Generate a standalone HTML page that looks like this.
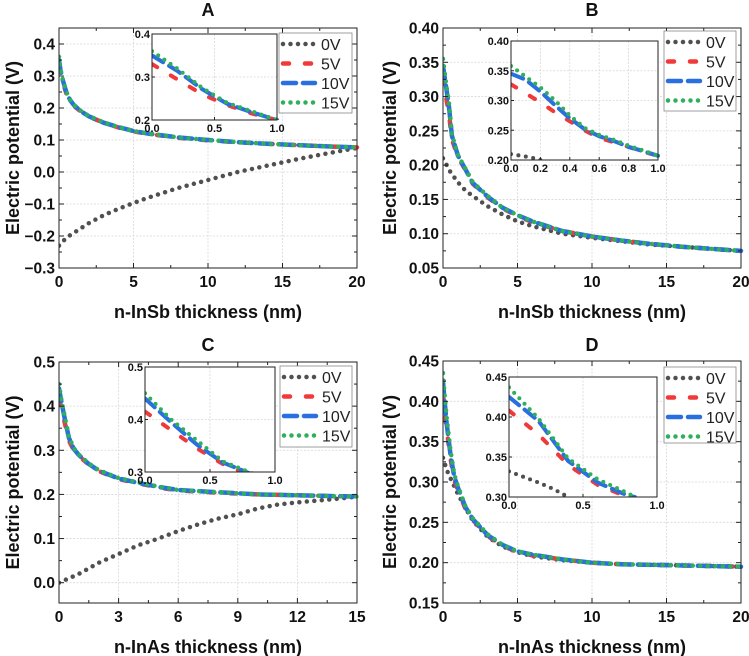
<!DOCTYPE html>
<html><head><meta charset="utf-8">
<style>
body{margin:0;background:#fff;}
svg{display:block;font-family:"Liberation Sans",sans-serif;}
</style></head>
<body>
<svg id="chart" width="749" height="656" viewBox="0 0 749 656" xmlns="http://www.w3.org/2000/svg"></svg>
<script>
// ---------- Data ----------
const seriesNames = ["0V","5V","10V","15V"];
// Panel A
const aX  = [0,0.1,0.25,0.5,0.75,1,1.5,2,3,4,5,6,8,10,12,14,16,18,20];
const a15 = [0.36,0.32,0.29,0.25,0.225,0.21,0.19,0.175,0.155,0.14,0.128,0.12,0.108,0.1,0.093,0.088,0.084,0.08,0.077];
const a10 = [0.35,0.318,0.288,0.248,0.224,0.209,0.189,0.174,0.154,0.14,0.128,0.12,0.108,0.1,0.093,0.088,0.084,0.08,0.077];
const a5  = [0.33,0.31,0.283,0.244,0.222,0.207,0.188,0.173,0.154,0.139,0.127,0.119,0.107,0.099,0.093,0.088,0.084,0.08,0.077];
const a0X = [0,0.5,1,2,3,4,5,6,8,10,12,14,16,18,20];
const a0  = [-0.23,-0.205,-0.19,-0.16,-0.135,-0.115,-0.097,-0.08,-0.05,-0.025,0,0.02,0.04,0.058,0.075];
const aiX = [0,0.2,0.4,0.6,0.8,1.0];
const ai15 = [0.36,0.32,0.275,0.24,0.22,0.2];
const ai10 = [0.35,0.315,0.272,0.238,0.218,0.2];
const ai5  = [0.33,0.295,0.26,0.235,0.215,0.2];
// Panel B
const bX  = [0,0.2,0.4,0.6,1,1.5,2,3,4,5,6,8,10,12,14,16,18,20];
const b15 = [0.355,0.32,0.29,0.245,0.215,0.195,0.175,0.155,0.138,0.127,0.118,0.104,0.096,0.09,0.085,0.081,0.078,0.075];
const b10 = [0.345,0.315,0.285,0.243,0.214,0.194,0.174,0.154,0.138,0.127,0.118,0.104,0.096,0.09,0.085,0.081,0.078,0.075];
const b5  = [0.328,0.3,0.275,0.238,0.212,0.193,0.173,0.153,0.137,0.126,0.117,0.104,0.096,0.09,0.085,0.081,0.078,0.075];
const b0X = [0,0.5,1,1.5,2,3,4,5,6,8,10,12,14,16,18,20];
const b0  = [0.21,0.19,0.175,0.163,0.155,0.14,0.128,0.118,0.111,0.1,0.094,0.089,0.084,0.081,0.078,0.075];
const biX = [0,0.1,0.2,0.3,0.4,0.5,0.6,0.7,0.8,0.9,1.0];
const bi15 = [0.358,0.34,0.322,0.3,0.275,0.254,0.242,0.234,0.224,0.216,0.207];
const bi10 = [0.345,0.335,0.315,0.292,0.27,0.252,0.24,0.232,0.222,0.215,0.207];
const bi5  = [0.327,0.312,0.297,0.28,0.265,0.25,0.237,0.23,0.222,0.214,0.207];
const bi0X = [0,0.07,0.14,0.2];
const bi0  = [0.21,0.207,0.204,0.2];
// Panel C
const cX  = [0,0.1,0.25,0.5,0.75,1,1.5,2,3,4,5,6,8,10,12,15];
const c15 = [0.45,0.42,0.385,0.33,0.305,0.29,0.27,0.255,0.237,0.227,0.218,0.21,0.205,0.2,0.198,0.195];
const c10 = [0.44,0.415,0.38,0.328,0.303,0.289,0.269,0.254,0.236,0.226,0.217,0.21,0.205,0.2,0.198,0.195];
const c5  = [0.415,0.4,0.37,0.322,0.3,0.287,0.268,0.253,0.235,0.225,0.216,0.209,0.204,0.2,0.198,0.195];
const c0X = [0,0.5,1,2,3,4,5,6,7,8,9,10,11,12,13,14,15];
const c0  = [0,0.01,0.02,0.045,0.065,0.085,0.1,0.117,0.132,0.145,0.155,0.168,0.177,0.182,0.186,0.19,0.195];
const ciX = [0,0.2,0.4,0.6,0.8,0.9];
const ci15 = [0.45,0.4,0.36,0.32,0.3,0.29];
const ci10 = [0.44,0.395,0.352,0.318,0.298,0.29];
const ci5  = [0.415,0.38,0.345,0.315,0.295,0.288];
// Panel D
const dX  = [0,0.1,0.25,0.5,0.75,1,1.5,2,3,4,5,6,8,10,12,15,20];
const d15 = [0.435,0.41,0.38,0.34,0.31,0.295,0.27,0.255,0.235,0.222,0.214,0.21,0.204,0.2,0.198,0.197,0.195];
const d10 = [0.425,0.402,0.372,0.335,0.307,0.293,0.269,0.254,0.234,0.222,0.214,0.21,0.204,0.2,0.198,0.197,0.195];
const d5  = [0.408,0.39,0.365,0.33,0.303,0.29,0.267,0.253,0.233,0.221,0.213,0.209,0.204,0.2,0.198,0.197,0.195];
const d0X = [0,0.25,0.5,1,1.5,2,3,4,5,6,8,10,12,15,20];
const d0  = [0.33,0.315,0.305,0.285,0.268,0.252,0.232,0.22,0.213,0.208,0.203,0.2,0.198,0.197,0.195];
const diX = [0,0.2,0.4,0.6,0.8,0.85];
const di15 = [0.437,0.398,0.348,0.322,0.305,0.3];
const di10 = [0.425,0.395,0.345,0.318,0.302,0.3];
const di5  = [0.408,0.378,0.34,0.315,0.3,0.298];
const di0X = [0,0.1,0.2,0.3,0.4];
const di0  = [0.332,0.325,0.318,0.31,0.3];

// ---------- Drawing ----------
const NS="http://www.w3.org/2000/svg";
const svg=document.getElementById('chart');
function mk(tag,attrs,parent){const e=document.createElementNS(NS,tag);for(const k in attrs)e.setAttribute(k,attrs[k]);(parent||svg).appendChild(e);return e;}
const styles={
 "0V":{c:"#505050",w:4.5,d:"0 7.5"},
 "5V":{c:"#f03a3a",w:4.5,d:"6 16"},
 "10V":{c:"#2a6fe0",w:4.5,d:"13 7"},
 "15V":{c:"#2eb05a",w:4.5,d:"0 7.5"}
};
function fmt(v,dec){return v.toFixed(dec).replace('-','\u2212');}

function axes(p){
 const g=mk('g',{});
 
 
 const sx=v=>p.x0+(v-p.xmin)/(p.xmax-p.xmin)*(p.x1-p.x0);
 const sy=v=>p.y1-(v-p.ymin)/(p.ymax-p.ymin)*(p.y1-p.y0);
 mk('rect',{x:p.x0,y:p.y0,width:p.x1-p.x0,height:p.y1-p.y0,fill:'#fff'},g);
 p.xt.forEach(v=>mk('line',{x1:sx(v),x2:sx(v),y1:p.y0,y2:p.y1,stroke:'#d8d8d8','stroke-width':0.8,'stroke-dasharray':'2 1.5'},g));
 p.yt.forEach(v=>mk('line',{x1:p.x0,x2:p.x1,y1:sy(v),y2:sy(v),stroke:'#d8d8d8','stroke-width':0.8,'stroke-dasharray':'2 1.5'},g));
 const clipId='clip'+p.name;
 const cp=mk('clipPath',{id:clipId},g);mk('rect',{x:p.x0,y:p.y0-3,width:p.x1-p.x0+3,height:p.y1-p.y0+3},cp);
 const sg=mk('g',{'clip-path':`url(#${clipId})`},g);
 p.series.forEach(s=>{
  const st=styles[s.n];
  const pts=s.x.map((x,i)=>sx(x).toFixed(1)+','+sy(s.y[i]).toFixed(1)).join(' ');
  const pl=mk('polyline',{points:pts,fill:'none',stroke:st.c,'stroke-width':p.inset?st.w*0.9:st.w,'stroke-dasharray':st.d,'stroke-linecap':'round'},sg);
  
  
 });
 mk('rect',{x:p.x0,y:p.y0,width:p.x1-p.x0,height:p.y1-p.y0,fill:'none',stroke:'#222','stroke-width':1},g);
 const fs=p.inset?11:15.5;
 p.xt.forEach(v=>{
  mk('line',{x1:sx(v),x2:sx(v),y1:p.y1,y2:p.y1-(p.inset?3:5),stroke:'#222'},g);
  if(!p.inset) mk('line',{x1:sx(v),x2:sx(v),y1:p.y0,y2:p.y0+5,stroke:'#222'},g);
  const t=mk('text',{x:sx(v),y:p.y1+(p.inset?12:19),'text-anchor':'middle','font-size':fs,'font-weight':'bold',fill:'#111'},g);
  t.textContent=fmt(v,p.xdec);
 });
 p.yt.forEach(v=>{
  mk('line',{x1:p.x0,x2:p.x0+(p.inset?3:5),y1:sy(v),y2:sy(v),stroke:'#222'},g);
  if(!p.inset) mk('line',{x1:p.x1,x2:p.x1-5,y1:sy(v),y2:sy(v),stroke:'#222'},g);
  const t=mk('text',{x:p.x0-(p.inset?2:4),y:sy(v)+(p.inset?4:5.5),'text-anchor':'end','font-size':fs,'font-weight':'bold',fill:'#111'},g);
  t.textContent=fmt(v,p.ydec);
 });
 if(!p.inset){
  for(let i=0;i<p.xt.length-1;i++){const m=(p.xt[i]+p.xt[i+1])/2;mk('line',{x1:sx(m),x2:sx(m),y1:p.y1,y2:p.y1-3,stroke:'#222'},g);mk('line',{x1:sx(m),x2:sx(m),y1:p.y0,y2:p.y0+3,stroke:'#222'},g);}
  for(let i=0;i<p.yt.length-1;i++){const m=(p.yt[i]+p.yt[i+1])/2;mk('line',{x1:p.x0,x2:p.x0+3,y1:sy(m),y2:sy(m),stroke:'#222'},g);mk('line',{x1:p.x1,x2:p.x1-3,y1:sy(m),y2:sy(m),stroke:'#222'},g);}
  const xt=mk('text',{x:(p.x0+p.x1)/2,y:p.y1+50,'text-anchor':'middle','font-size':18,'font-weight':'bold',fill:'#111'},g);
  xt.textContent=p.xlabel;
  
  const yx=p.ytx, yy=(p.y0+p.y1)/2;
  const yt=mk('text',{x:yx,y:yy,'text-anchor':'middle','font-size':18,'font-weight':'bold',fill:'#111',transform:`rotate(-90 ${yx} ${yy})`},g);
  yt.textContent='Electric potential (V)';
  
  const tt=mk('text',{x:(p.x0+p.x1)/2,y:p.titleY,'text-anchor':'middle','font-size':18,'font-weight':'bold',fill:'#111'},g);
  tt.textContent=p.title;
  
 }
 return g;
}
function legend(x,y,w,h,name){
 const g=mk('g',{});
 
 
 mk('rect',{x:x,y:y,width:w,height:h,fill:'#fff',stroke:'#888','stroke-width':0.8},g);
 seriesNames.forEach((n,i)=>{
  const st=styles[n];const yy=y+11+i*19.5;
  mk('line',{x1:x+4,x2:x+36,y1:yy,y2:yy,stroke:st.c,'stroke-width':st.w,'stroke-dasharray':st.d,'stroke-linecap':'round'},g);
  const t=mk('text',{x:x+42,y:yy+6,'font-size':16,fill:'#222'},g);
  t.textContent=n;
  
 });
}
const S=(x,y,n)=>({x:x,y:y,n:n});

axes({name:'panel-a',x0:59,x1:357,y0:28,y1:268,xmin:0,xmax:20,ymin:-0.3,ymax:0.45,xt:[0,5,10,15,20],yt:[-0.3,-0.2,-0.1,0,0.1,0.2,0.3,0.4],xdec:0,ydec:1,xlabel:'n-InSb thickness (nm)',ytx:19,titleY:16,title:'A',
 series:[S(a0X,a0,'0V'),S(aX,a5,'5V'),S(aX,a10,'10V'),S(aX,a15,'15V')]});
axes({name:'panel-a-inset',inset:true,x0:152,x1:277,y0:34,y1:120,xmin:0,xmax:1,ymin:0.2,ymax:0.4,xt:[0,0.5,1],yt:[0.2,0.3,0.4],xdec:1,ydec:1,
 series:[S(aiX,ai5,'5V'),S(aiX,ai10,'10V'),S(aiX,ai15,'15V')]});
legend(279,33,73,80,'panel-a-legend');

axes({name:'panel-b',x0:443,x1:741,y0:28,y1:268,xmin:0,xmax:20,ymin:0.05,ymax:0.4,xt:[0,5,10,15,20],yt:[0.05,0.1,0.15,0.2,0.25,0.3,0.35,0.4],xdec:0,ydec:2,xlabel:'n-InSb thickness (nm)',ytx:396,titleY:16,title:'B',
 series:[S(b0X,b0,'0V'),S(bX,b5,'5V'),S(bX,b10,'10V'),S(bX,b15,'15V')]});
axes({name:'panel-b-inset',inset:true,x0:511,x1:658,y0:41,y1:160,xmin:0,xmax:1,ymin:0.2,ymax:0.4,xt:[0,0.2,0.4,0.6,0.8,1],yt:[0.2,0.25,0.3,0.35,0.4],xdec:1,ydec:2,
 series:[S(bi0X,bi0,'0V'),S(biX,bi5,'5V'),S(biX,bi10,'10V'),S(biX,bi15,'15V')]});
legend(664,31,72,80,'panel-b-legend');

axes({name:'panel-c',x0:59,x1:357,y0:362,y1:603,xmin:0,xmax:15,ymin:-0.046,ymax:0.5,xt:[0,3,6,9,12,15],yt:[0,0.1,0.2,0.3,0.4,0.5],xdec:0,ydec:1,xlabel:'n-InAs thickness (nm)',ytx:19,titleY:351,title:'C',
 series:[S(c0X,c0,'0V'),S(cX,c5,'5V'),S(cX,c10,'10V'),S(cX,c15,'15V')]});
axes({name:'panel-c-inset',inset:true,x0:145,x1:275,y0:367,y1:472,xmin:0,xmax:1,ymin:0.3,ymax:0.5,xt:[0,0.5,1],yt:[0.3,0.4,0.5],xdec:1,ydec:1,
 series:[S(ciX,ci5,'5V'),S(ciX,ci10,'10V'),S(ciX,ci15,'15V')]});
legend(280,366,72,81,'panel-c-legend');

axes({name:'panel-d',x0:443,x1:741,y0:361,y1:603,xmin:0,xmax:20,ymin:0.15,ymax:0.45,xt:[0,5,10,15,20],yt:[0.15,0.2,0.25,0.3,0.35,0.4,0.45],xdec:0,ydec:2,xlabel:'n-InAs thickness (nm)',ytx:396,titleY:351,title:'D',
 series:[S(d0X,d0,'0V'),S(dX,d5,'5V'),S(dX,d10,'10V'),S(dX,d15,'15V')]});
axes({name:'panel-d-inset',inset:true,x0:509,x1:657,y0:377,y1:497,xmin:0,xmax:1,ymin:0.3,ymax:0.45,xt:[0,0.5,1],yt:[0.3,0.35,0.4,0.45],xdec:1,ydec:2,
 series:[S(di0X,di0,'0V'),S(diX,di5,'5V'),S(diX,di10,'10V'),S(diX,di15,'15V')]});
legend(664,367,72,76,'panel-d-legend');
</script>
</body></html>
